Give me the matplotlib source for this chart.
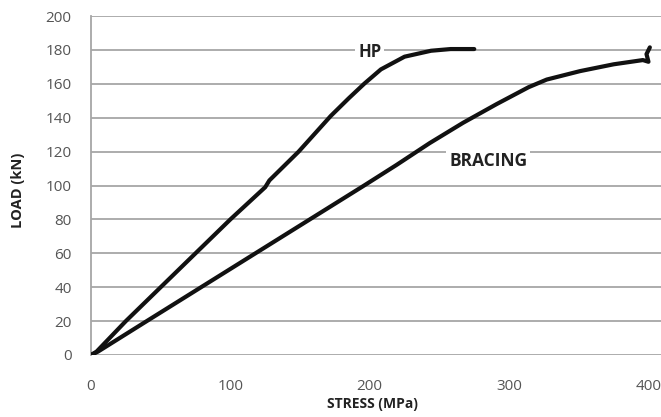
import matplotlib
matplotlib.use('Agg')
import matplotlib.pyplot as plt

# curva HP (esfuerzo MPa, carga kN)
hp_stress = [0, 4, 25, 50, 75, 100, 125, 128, 149, 172, 185, 196, 208, 225, 244, 258, 275]
hp_load = [0, 2, 20, 40, 60, 80, 99, 103, 120, 141, 151.5, 160, 168.5, 176, 179.5, 180.5, 180.5]

# curva BRACING
br_stress = [0, 5, 40, 79, 118, 157, 196, 219, 243, 267, 291, 314, 327, 351, 375, 396, 400, 398.6, 401]
br_load = [0, 2, 20, 40, 60, 80, 100, 112, 125, 137, 148, 158, 162.5, 167.5, 171.5, 174, 173, 177.5, 181.5]

yticks = [0, 20, 40, 60, 80, 100, 120, 140, 160, 180, 200]
xticks = [0, 100, 200, 300, 400]

plt.rcParams['font.family'] = ['Open Sans', 'DejaVu Sans']

fig = plt.figure(figsize=(6.61, 4.17), dpi=100)
ax = fig.add_axes([91/661, 62/417, 570/661, 339/417])

for y in yticks:
    ax.axhline(y, color='#a6a6a6', lw=1.3, zorder=1)

ax.plot(hp_stress, hp_load, color='#111111', lw=3, zorder=3, solid_capstyle='round')
ax.plot(br_stress, br_load, color='#111111', lw=3, zorder=3, solid_capstyle='round')

ax.text(200, 179, 'HP', fontsize=12, fontweight='bold', color='#222222',
        ha='center', va='center', zorder=4,
        bbox=dict(facecolor='white', edgecolor='none', pad=2))
ax.text(285, 114.5, 'BRACING', fontsize=12.5, fontweight='bold', color='#222222',
        ha='center', va='center', zorder=4,
        bbox=dict(facecolor='white', edgecolor='none', pad=2))

ax.set_xlim(0, 409)
ax.set_ylim(0, 200)
ax.set_xticks(xticks)
ax.set_yticks(yticks)
ax.tick_params(axis='both', length=0, labelsize=11, colors='#555555')
ax.tick_params(axis='x', pad=17)
ax.tick_params(axis='y', pad=14)

for s in ['top', 'right', 'bottom']:
    ax.spines[s].set_visible(False)
ax.spines['left'].set_color('#a6a6a6')
ax.spines['left'].set_linewidth(1.3)

ax.set_xlabel('STRESS (MPa)', fontsize=10, fontweight='bold', color='#222222')
ax.set_ylabel('LOAD (kN)', fontsize=10.5, fontweight='bold', color='#222222')
ax.xaxis.set_label_coords((372 - 91) / 570, (355 - 397) / 339)
ax.yaxis.set_label_coords((25 - 91) / 570, (355 - 190) / 339)

fig.savefig('out.png', dpi=100)
